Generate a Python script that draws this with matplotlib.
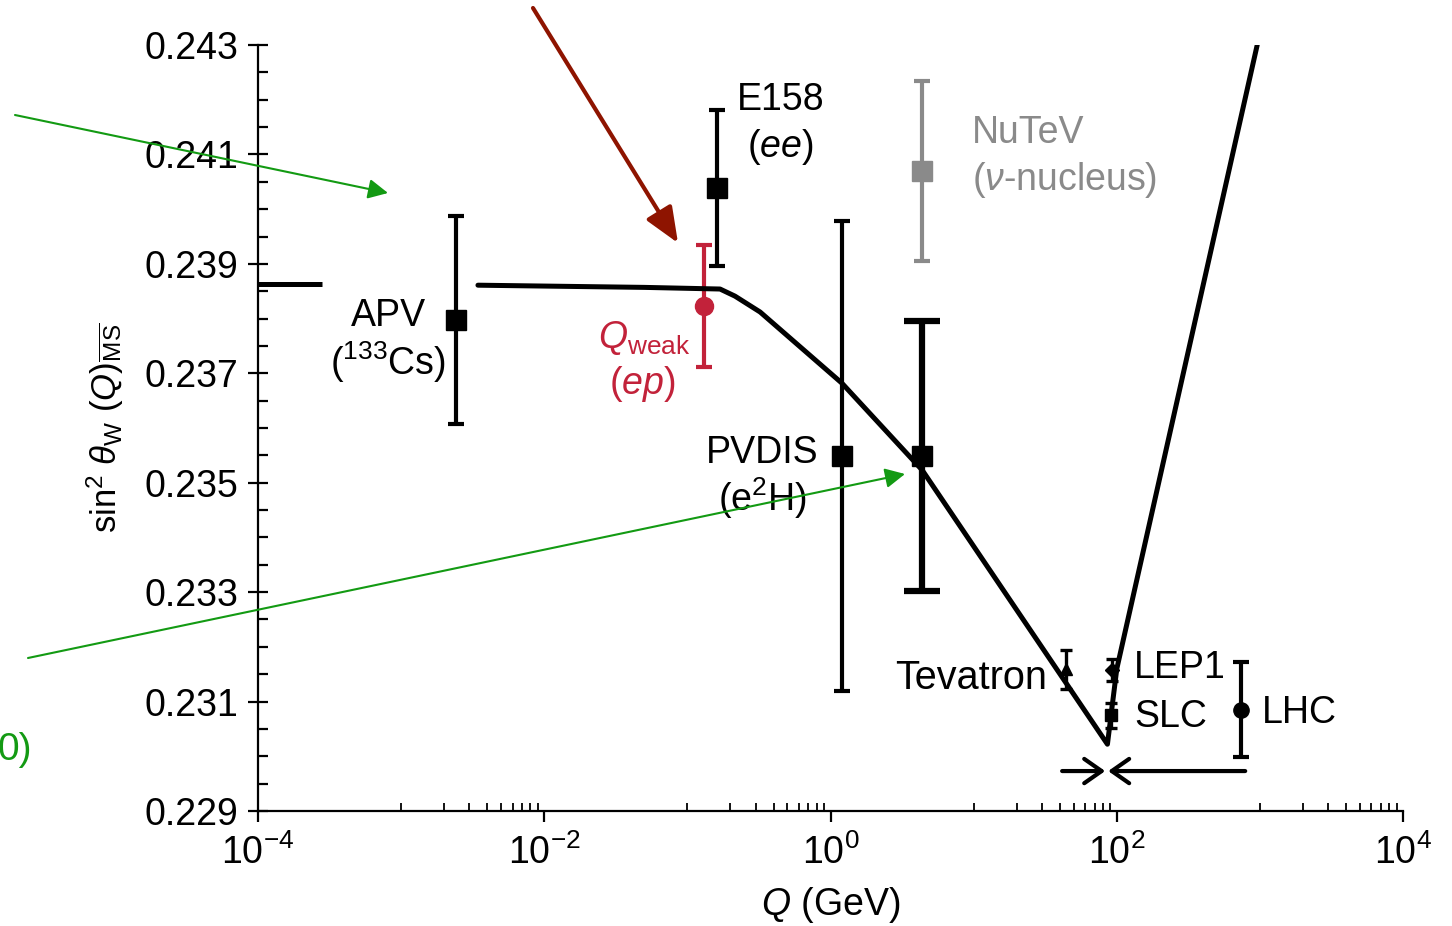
import numpy as np
import matplotlib
matplotlib.use("Agg")
import matplotlib.pyplot as plt
from matplotlib.ticker import FixedLocator, LogFormatterSciNotation, NullFormatter, FormatStrFormatter

plt.rcParams['font.family'] = ['Liberation Sans', 'DejaVu Sans']
plt.rcParams['mathtext.fontset'] = 'custom'
plt.rcParams['mathtext.rm'] = 'Liberation Sans'
plt.rcParams['mathtext.it'] = 'Liberation Sans:italic'
plt.rcParams['mathtext.bf'] = 'Liberation Sans:bold'

# measurements: Q (GeV), sin2thetaW, error
apv_q, apv_y, apv_e = 0.00242, 0.23797, 0.00190
e158_q, e158_y, e158_e = 0.161, 0.24039, 0.00143
qweak_q, qweak_y, qweak_e = 0.131, 0.23823, 0.00112
pvdis_q, pvdis_y, pvdis_e = 1.2, 0.23549, 0.00430
proj_q, proj_y, proj_e = 4.37, 0.23549, 0.00247
nutev_q, nutev_y, nutev_e = 4.37, 0.24070, 0.00164
tev_q, tev_y, tev_e = 44.0, 0.23159, 0.00036
lep1_q, lep1_y, lep1_e = 93.0, 0.23158, 0.00020
slc_q, slc_y, slc_e = 91.0, 0.23075, 0.00023
lhc_q, lhc_y, lhc_e = 740.0, 0.23085, 0.00087

# running curve (two pieces, gap for the APV label)
curve1_q = [1e-4, 2.8e-4]
curve1_y = [0.23863, 0.23863]
curve2_q = [0.00344, 0.05, 0.169, 0.215, 0.322, 1.2, 4.37, 86.0, 100.0, 957.0]
curve2_y = [0.23861, 0.23857, 0.23854, 0.23841, 0.23812, 0.23682, 0.23523, 0.23022, 0.23160, 0.24300]

RED = '#C2223A'
GRAY = '#8A8A8A'
GREEN = '#139A13'
DARKRED = '#8E1400'

fig = plt.figure(figsize=(14.52, 9.26), dpi=100)
ax = fig.add_axes([0.1777, 0.1242, 0.7886, 0.8272])

ax.plot(curve1_q, curve1_y, color='black', lw=3.6, solid_capstyle='butt', zorder=4)
ax.plot(curve2_q, curve2_y, color='black', lw=3.6, solid_capstyle='round',
        solid_joinstyle='round', zorder=4)

def point(q, y, e, marker, ms, color='black', lw=3.0, cap=5.5, capthick=3.0):
    ax.errorbar([q], [y], yerr=[e], fmt=marker, ms=ms, color=color, mfc=color, mec=color,
                elinewidth=lw, capsize=cap, capthick=capthick, zorder=3)

point(apv_q, apv_y, apv_e, 's', 14)
point(e158_q, e158_y, e158_e, 's', 14)
point(qweak_q, qweak_y, qweak_e, 'o', 13, color=RED)
point(pvdis_q, pvdis_y, pvdis_e, 's', 14)
point(proj_q, proj_y, proj_e, 's', 14, lw=4.5, cap=13, capthick=4.5)
point(nutev_q, nutev_y, nutev_e, 's', 14, color=GRAY)
point(tev_q, tev_y, tev_e, '^', 9, lw=2.4, cap=4, capthick=2.4)
point(lep1_q, lep1_y, lep1_e, 'D', 7, lw=2.4, cap=4, capthick=2.4)
point(slc_q, slc_y, slc_e, 's', 9, lw=2.4, cap=4, capthick=2.4)
point(lhc_q, lhc_y, lhc_e, 'o', 11, lw=3.0, cap=5.5, capthick=3.0)

fs = 27
ax.text(8.1e-4, 0.23805, 'APV', fontsize=fs, ha='center', va='center')
ax.text(8.1e-4, 0.23721, r'($^{133}$Cs)', fontsize=fs, ha='center', va='center')
ax.text(0.222, 0.24200, 'E158', fontsize=fs, ha='left', va='center')
ax.text(0.443, 0.24114, r'($ee$)', fontsize=fs, ha='center', va='center')
ax.text(9.75, 0.24139, 'NuTeV', fontsize=fs, ha='left', va='center', color=GRAY)
ax.text(9.75, 0.24053, r'($\nu$-nucleus)', fontsize=fs, ha='left', va='center', color=GRAY)
ax.text(0.1042, 0.23764, r'$Q_{\rm weak}$', fontsize=fs, ha='right', va='center', color=RED)
ax.text(0.0482, 0.23680, r'($ep$)', fontsize=fs, ha='center', va='center', color=RED)
ax.text(0.332, 0.23554, 'PVDIS', fontsize=fs, ha='center', va='center')
ax.text(0.332, 0.23472, r'(e$^2$H)', fontsize=fs, ha='center', va='center')
ax.text(32.6, 0.23143, 'Tevatron', fontsize=28.5, ha='right', va='center')
ax.text(132, 0.23161, 'LEP1', fontsize=fs, ha='left', va='center')
ax.text(132, 0.23072, 'SLC', fontsize=fs, ha='left', va='center')
ax.text(1035, 0.23079, 'LHC', fontsize=fs, ha='left', va='center')

# arrows marking the Z pole region
ax.annotate('', xy=(83, 0.22973), xytext=(41.5, 0.22973),
            arrowprops=dict(arrowstyle='->,head_length=0.5,head_width=0.35', color='black',
                            lw=3, mutation_scale=25, shrinkA=0, shrinkB=0), annotation_clip=False)
ax.annotate('', xy=(87, 0.22973), xytext=(789, 0.22973),
            arrowprops=dict(arrowstyle='->,head_length=0.5,head_width=0.35', color='black',
                            lw=3, mutation_scale=25, shrinkA=0, shrinkB=0), annotation_clip=False)

# overlay arrows (figure coordinates)
def ff(px, py):
    return (px / 1452, 1 - py / 926)

def fig_arrow(start, tip, color, lw, style, scale):
    ax.annotate('', xy=ff(*tip), xytext=ff(*start), xycoords='figure fraction',
                textcoords='figure fraction', annotation_clip=False,
                arrowprops=dict(arrowstyle=style, color=color, lw=lw,
                                mutation_scale=scale, shrinkA=0, shrinkB=0), zorder=6)

fig_arrow((15, 115), (388, 193), GREEN, 1.5, '-|>,head_length=0.4,head_width=0.2', 30)
fig_arrow((28, 658), (905, 474), GREEN, 1.5, '-|>,head_length=0.4,head_width=0.2', 30)
fig_arrow((533, 8), (678, 243), DARKRED, 3, '-|>,head_length=0.6,head_width=0.25', 36)
fig.text(32 / 1452, 1 - 750 / 926, '0)', fontsize=28, color=GREEN, ha='right', va='center')

# axes styling
ax.set_xscale('log')
ax.set_xlim(1e-4, 1e4)
ax.set_ylim(0.229, 0.243)
for s in ['top', 'right']:
    ax.spines[s].set_visible(False)
for s in ['left', 'bottom']:
    ax.spines[s].set_linewidth(1.6)

ax.xaxis.set_major_locator(FixedLocator([1e-4, 1e-2, 1e0, 1e2, 1e4]))
ax.xaxis.set_major_formatter(LogFormatterSciNotation())
minor_x = [k * 10.0 ** n for n in (-3, -1, 1, 3) for k in range(1, 10)]
ax.xaxis.set_minor_locator(FixedLocator(minor_x))
ax.xaxis.set_minor_formatter(NullFormatter())
ax.set_yticks(np.arange(0.229, 0.2431, 0.002))
ax.set_yticks(np.arange(0.229, 0.2431, 0.0005), minor=True)
ax.yaxis.set_major_formatter(FormatStrFormatter('%.3f'))

ax.tick_params(axis='x', which='major', direction='out', length=8, width=1.6, labelsize=fs, pad=9)
ax.tick_params(axis='x', which='minor', direction='in', length=6, width=1.3)
ax.tick_params(axis='y', which='major', direction='inout', length=14, width=1.6, labelsize=fs, pad=7)
ax.tick_params(axis='y', which='minor', direction='in', length=7, width=1.6)

ax.set_xlabel(r'$Q$ (GeV)', fontsize=fs)
ax.xaxis.set_label_coords(0.5, -0.097)
ax.set_ylabel(r'$\sin^2\,\theta_{\rm W}\ (Q)_{\overline{\rm MS}}$', fontsize=25)
ax.yaxis.set_label_coords(-0.115, 0.5)

fig.savefig('out.png', dpi=100)
